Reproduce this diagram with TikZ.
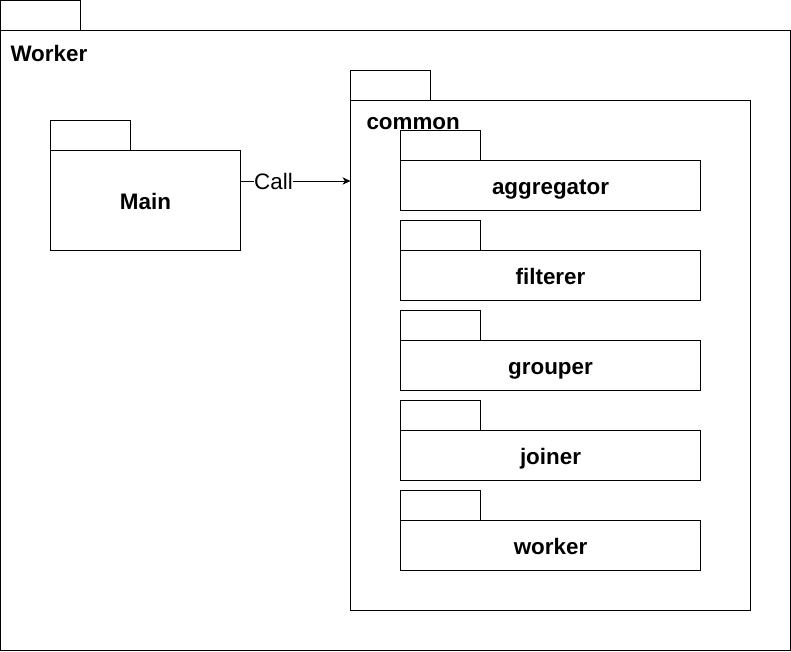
\documentclass[tikz,border=0pt]{standalone}
\usepackage{fontspec}
\setmainfont{Liberation Sans}
\usetikzlibrary{arrows.meta}
\begin{document}
\begin{tikzpicture}[x=0.75pt,y=-0.75pt,
  line width=0.75pt,
  bigfont/.style={font=\fontsize{16.8}{20}\selectfont\bfseries},
  box/.style={draw, inner sep=0pt, outer sep=0pt, anchor=north west},
  tabbox/.style={box, minimum width=60pt, minimum height=22.5pt},
  bodytext/.style={bigfont, text height=15pt, text depth=0.8pt},
  subbody/.style={box, bodytext, minimum width=225pt, minimum height=37.5pt},
  lbl/.style={bigfont, inner sep=0pt, anchor=west},
]
\useasboundingbox (0,0) rectangle (791,651);
% Worker package
\node[tabbox] (workertab) at (0.5,0.5) {};
\node[box, minimum width=592.5pt, minimum height=465pt] (worker) at (0.5,30.5) {};
\node[lbl] (workerlbl) at (10,53) {Worker};
% Main package
\node[tabbox] (maintab) at (50.5,120.5) {};
\node[box, bodytext, minimum width=142.5pt, minimum height=75pt] (main) at (50.5,150.5) {Main};
% common package
\node[tabbox] (commontab) at (350.5,70.5) {};
\node[box, minimum width=300pt, minimum height=382.5pt] (common) at (350.5,100.5) {};
\node[lbl] (commonlbl) at (366,123.5) {common};
% sub packages
\node[tabbox] (aggtab) at (400.5,130.5) {};
\node[subbody] (agg) at (400.5,160.5) {aggregator};
\node[tabbox] (filtab) at (400.5,220.5) {};
\node[subbody] (fil) at (400.5,250.5) {filterer};
\node[tabbox] (grptab) at (400.5,310.5) {};
\node[subbody] (grp) at (400.5,340.5) {grouper};
\node[tabbox] (jointab) at (400.5,400.5) {};
\node[subbody] (join) at (400.5,430.5) {joiner};
\node[tabbox] (wrktab) at (400.5,490.5) {};
\node[subbody] (wrk) at (400.5,520.5) {worker};
% connector
\draw[-{Stealth[length=6pt,width=5.5pt,inset=1.8pt]}] (main.east |- 0,181) -- node[pos=0.3, fill=white, inner sep=0.5pt, font=\fontsize{16.8}{20}\selectfont] (calllbl) {Call} (common.west |- 0,181);
\end{tikzpicture}
\end{document}
